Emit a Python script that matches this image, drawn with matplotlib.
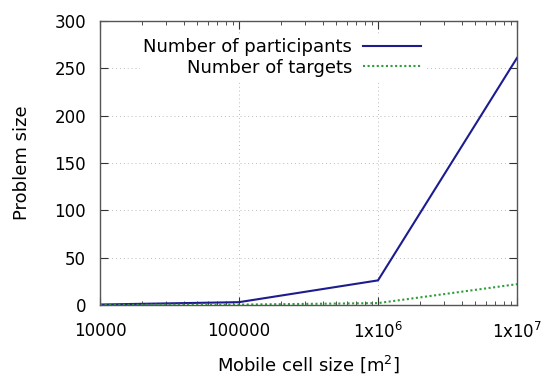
import matplotlib
matplotlib.use("Agg")
import matplotlib.pyplot as plt
from matplotlib.ticker import LogLocator, NullFormatter, FixedLocator

cell_sizes = [1e4, 1e5, 1e6, 1e7]
participants = [0.5, 3, 26, 261]
targets = [0.1, 0.4, 2, 22]
x_tick_vals = [1e4, 1e5, 1e6, 1e7]
x_tick_labels = ["10000", "100000", r"1x10$^{6}$", r"1x10$^{7}$"]
y_ticks = [0, 50, 100, 150, 200, 250, 300]

plt.rcParams['font.family'] = ['DejaVu Sans']
fig = plt.figure(figsize=(5.48, 3.77), dpi=100)
ax = fig.add_axes([100/548, 1 - 305/377, 417/548, 284/377])

ax.plot(cell_sizes, participants, color='#1c1c8f', lw=1.5, label='Number of participants')
ax.plot(cell_sizes, targets, color='#2e9e3a', lw=1.5, ls=(0, (1, 1.2)), label='Number of targets')

ax.set_xscale('log')
ax.set_xlim(1e4, 1e7)
ax.set_ylim(0, 300)
ax.xaxis.set_major_locator(FixedLocator(x_tick_vals))
ax.set_xticklabels(x_tick_labels)
ax.xaxis.set_minor_locator(LogLocator(base=10, subs=range(2, 10)))
ax.xaxis.set_minor_formatter(NullFormatter())
ax.set_yticks(y_ticks)

ax.tick_params(which='both', direction='in', top=True, right=True, labelsize=12, color='#333333')
ax.tick_params(axis='x', pad=12)
ax.tick_params(axis='y', pad=10)
ax.tick_params(which='major', length=6)
ax.tick_params(which='minor', length=3)
ax.grid(True, which='major', color='#bbbbbb', ls=(0, (1, 3)), lw=0.7)
for s in ax.spines.values():
    s.set_color('#555555')
    s.set_linewidth(1.0)

ax.set_xlabel(r'Mobile cell size [m$^{2}$]', fontsize=13, labelpad=8)
ax.set_ylabel('Problem size', fontsize=13, labelpad=17)

leg = ax.legend(loc='upper right', bbox_to_anchor=(0.80, 0.985), markerfirst=False,
                frameon=True, fontsize=13, handlelength=3.2, handletextpad=0.6,
                labelspacing=0.15, borderpad=0.2)
leg.get_frame().set_edgecolor('none')
leg.get_frame().set_facecolor('white')
leg.get_frame().set_alpha(1)
for t in leg.get_texts():
    t.set_ha('right')
leg._legend_box.align = 'right'

fig.savefig('out.png', dpi=100)
